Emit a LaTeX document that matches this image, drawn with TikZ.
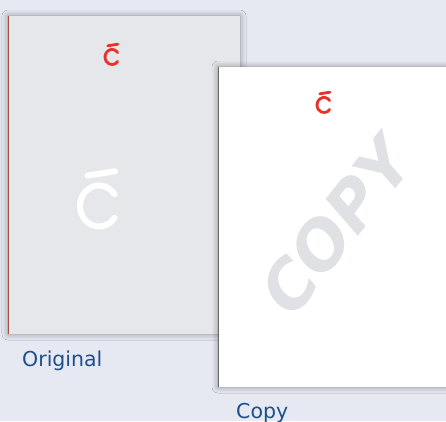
\documentclass[tikz,border=0pt]{standalone}
\usepackage{fontspec}
\setmainfont{DejaVu Sans}
\newfontfamily\wmfont{DejaVu Sans}
\usetikzlibrary{shadows.blur}
\definecolor{bgc}{HTML}{E6E9F2}
\definecolor{origfill}{HTML}{E6E7EA}
\definecolor{edgered}{HTML}{A0523C}
\definecolor{edgegray}{HTML}{6A6A6A}
\definecolor{logored}{HTML}{E8312A}
\definecolor{wmgray}{HTML}{E0E1E4}
\definecolor{labelblue}{HTML}{1D4F8C}
\tikzset{
  page/.style={anchor=north west, inner sep=0pt, outer sep=0pt,
    blur shadow={shadow xshift=0pt, shadow yshift=0pt, shadow blur radius=6pt, shadow opacity=40}},
  lbl/.style={text=labelblue, font=\fontsize{20.5}{21}\selectfont, anchor=base west, inner sep=0pt},
  clogo/.pic={
    \draw[line cap=round, pic actions] (-35:1 and 1.08) arc (-35:-325:1 and 1.08);
    \draw[line cap=round, pic actions] (-0.6,-1.6) -- (0.85,-1.83);
  }
}
\begin{document}
\begin{tikzpicture}[x=1pt,y=-1pt]
\useasboundingbox (0,0) rectangle (446,421);
\clip (0,0) rectangle (446,421);
\fill[bgc] (0,0) rectangle (446,421);
% original page
\node[page, fill=origfill, minimum width=232pt, minimum height=318pt] (orig) at (8,16) {};
\draw[edgered, line width=1pt] (orig.north west) -- (orig.south west);
\pic[draw=logored, line width=2.8pt, scale=7] (origlogo) at (112,57) {clogo};
\pic[draw=white, line width=6pt, scale=19] (biglogo) at (99,206) {clogo};
\node[lbl] (origlbl) at (22,366) {Original};
% copy page
\node[page, fill=white, minimum width=240pt, minimum height=320pt] (copy) at (218,67) {};
\draw[edgegray, line width=1pt] (copy.north west) -- (copy.south west);
\pic[draw=logored, line width=2.8pt, scale=7] (copylogo) at (324,105) {clogo};
\node[text=wmgray, rotate=52, font=\wmfont\bfseries\itshape\fontsize{66}{66}\selectfont, inner sep=0pt] (wm) at (336,226) {COPY};
\node[lbl] (copylbl) at (236,418) {Copy};
\end{tikzpicture}
\end{document}
